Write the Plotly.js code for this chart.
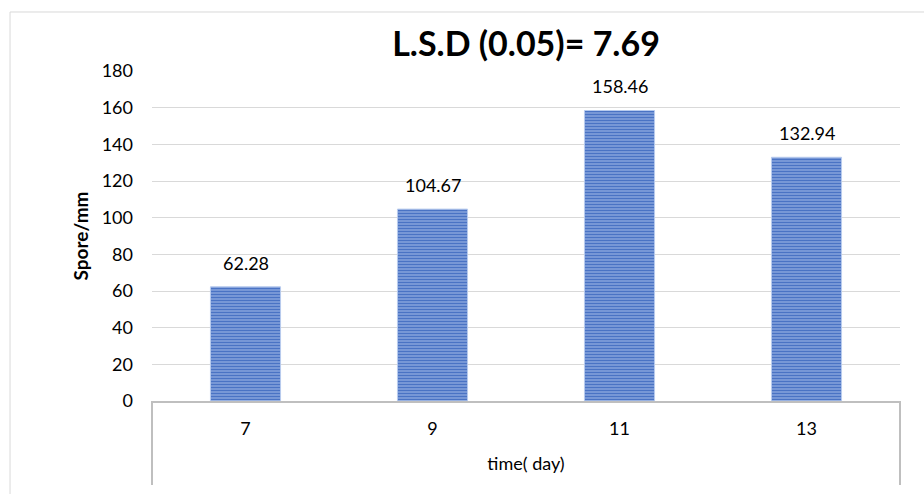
<!DOCTYPE html>
<html>
<head>
<meta charset="utf-8">
<script src="https://cdn.plot.ly/plotly-3.0.1.min.js"></script>
<style>html,body{margin:0;padding:0;background:#fff;}#chart{width:924px;height:494px;}</style>
</head>
<body>
<div id="chart"></div>
<script>
const categories = ['7', '9', '11', '13'];
const values = [62.28, 104.67, 158.46, 132.94];
const valueLabels = ['62.28', '104.67', '158.46', '132.94'];
const yTicks = [0, 20, 40, 60, 80, 100, 120, 140, 160, 180];

const FONT = 'Lato, "Liberation Sans", sans-serif';

const trace = {
  type: 'bar',
  x: categories,
  y: values,
  marker: {
    color: '#86a3dc',
    line: {color: '#b8cbee', width: 1},
    pattern: {shape: '-', fgcolor: '#4a73c4', bgcolor: '#86a3dc', size: 3, solidity: 0.5}
  },
  hoverinfo: 'x+y'
};

// annotations on a category axis are placed by category index
const labelAnnotations = categories.map((c, i) => ({
  x: i, y: values[i], xref: 'x', yref: 'y',
  text: valueLabels[i], showarrow: false,
  yanchor: 'bottom', yshift: 11,
  font: {family: FONT, size: 18, color: '#000'}
}));

const layout = {
  width: 924, height: 494,
  margin: {l: 152, r: 24, t: 71, b: 93},
  paper_bgcolor: '#fff', plot_bgcolor: '#fff',
  bargap: 0.625,
  showlegend: false,
  title: {
    text: '<b>L.S.D (0.05)= 7.69</b>',
    font: {family: FONT, size: 34, color: '#000'},
    x: 0.5693, xanchor: 'center', y: 0.91, yanchor: 'middle'
  },
  xaxis: {
    type: 'category',
    range: [-0.5, categories.length - 0.5],
    showgrid: false,
    showline: true, linecolor: '#bfbfbf', linewidth: 2,
    ticks: '', ticklabelstandoff: 10,
    tickfont: {family: FONT, size: 18, color: '#000'},
    title: {text: 'time( day)', font: {family: FONT, size: 18, color: '#000'}, standoff: 20},
    automargin: false
  },
  yaxis: {
    range: [0, 180],
    tickvals: yTicks,
    ticktext: yTicks.map(String),
    showgrid: true, gridcolor: '#d9d9d9', gridwidth: 1,
    zeroline: false, showline: false,
    ticks: '', ticklabelstandoff: 18,
    tickfont: {family: FONT, size: 18, color: '#000'},
    title: {text: '<b>Spore/mm</b>', font: {family: FONT, size: 19, color: '#000'}, standoff: 8},
    automargin: false
  },
  annotations: labelAnnotations,
  shapes: [
    {type: 'line', xref: 'paper', yref: 'paper', x0: 0, x1: 0, y0: 0, y1: -0.2545, line: {color: '#bfbfbf', width: 2}},
    {type: 'line', xref: 'paper', yref: 'paper', x0: 1, x1: 1, y0: 0, y1: -0.2545, line: {color: '#bfbfbf', width: 2}},
    {type: 'line', xref: 'paper', yref: 'paper', x0: -0.1898, x1: 1.05, y0: 1.1788, y1: 1.1788, line: {color: '#d9d9d9', width: 1}},
    {type: 'line', xref: 'paper', yref: 'paper', x0: -0.1898, x1: -0.1898, y0: 1.1788, y1: -0.35, line: {color: '#d9d9d9', width: 1}}
  ]
};

Plotly.newPlot('chart', [trace], layout, {displayModeBar: false, staticPlot: true});
</script>
</body>
</html>
